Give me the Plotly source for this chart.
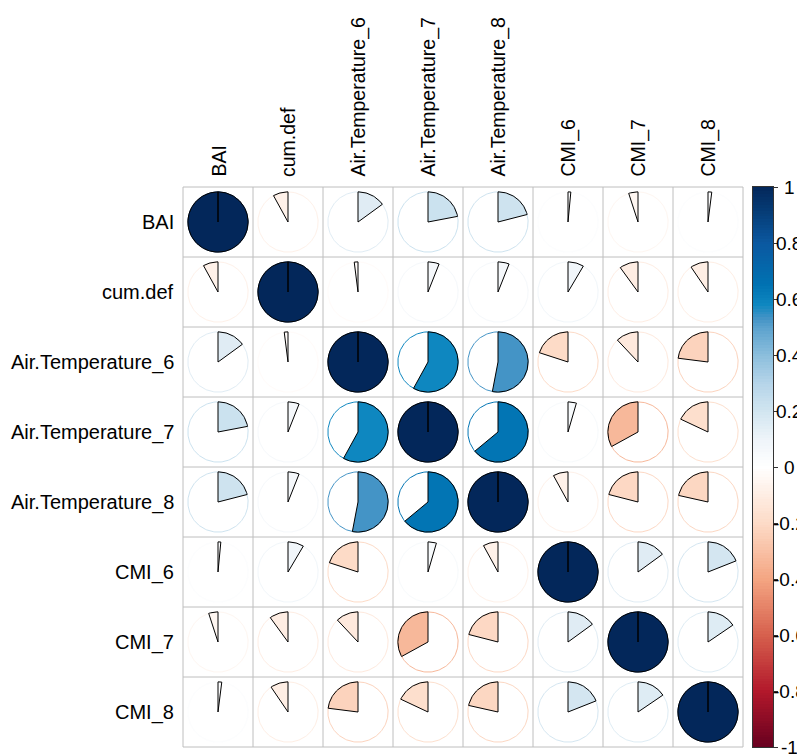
import numpy as np
import plotly.graph_objects as go

# ---------------- data ----------------
labels = ["BAI", "cum.def", "Air.Temperature_6", "Air.Temperature_7",
          "Air.Temperature_8", "CMI_6", "CMI_7", "CMI_8"]

r_BAI = [1.00, -0.08, 0.15, 0.22, 0.21, 0.015, -0.05, 0.02]
r_cumdef = [-0.08, 1.00, -0.02, 0.06, 0.06, 0.085, -0.10, -0.095]
r_AT6 = [0.15, -0.02, 1.00, 0.58, 0.53, -0.20, -0.12, -0.23]
r_AT7 = [0.22, 0.06, 0.58, 1.00, 0.64, 0.045, -0.33, -0.18]
r_AT8 = [0.21, 0.06, 0.53, 0.64, 1.00, -0.08, -0.21, -0.215]
r_CMI6 = [0.015, 0.085, -0.20, 0.045, -0.08, 1.00, 0.15, 0.19]
r_CMI7 = [-0.05, -0.10, -0.12, -0.33, -0.21, 0.15, 1.00, 0.155]
r_CMI8 = [0.02, -0.095, -0.23, -0.18, -0.215, 0.19, 0.155, 1.00]

cbar_tickvals = [1, 0.8, 0.6, 0.4, 0.2, 0, -0.2, -0.4, -0.6, -0.8, -1]
cbar_ticktext = ["1", "0.8", "0.6", "0.4", "0.2", "0", "-0.2", "-0.4", "-0.6", "-0.8", "-1"]

pal_vals = [-1.0, -0.8, -0.6, -0.4, -0.2, 0.0, 0.1, 0.2, 0.3, 0.4, 0.5, 0.53, 0.58, 0.65, 0.8, 0.9, 1.0]
pal_cols = ["#67001F", "#B2182B", "#D6604D", "#F4A582", "#FDDBC7", "#FFFFFF", "#EEF4F9",
            "#D1E5F0", "#B5D4E9", "#8BBEDC", "#5AA1CD", "#4494C6", "#0E87C0", "#0072B2",
            "#0B58A0", "#063F7A", "#03275A"]

# ---------------- layout constants ----------------
# the page body adds an 8px margin, so the figure starts at window pixel (8, 8)
OFF = 8.0
W, H = 797, 746
CELL = 70.0
GRID_L, GRID_T = 183.0 - OFF, 187.0 - OFF
N = len(labels)
RADIUS = 0.43
FONT = "Arial, Liberation Sans, sans-serif"

matrix = [r_BAI, r_cumdef, r_AT6, r_AT7, r_AT8, r_CMI6, r_CMI7, r_CMI8]


def hex2rgb(h):
    h = h.lstrip("#")
    return np.array([int(h[i:i + 2], 16) for i in (0, 2, 4)], dtype=float)


pal_rgb = [hex2rgb(c) for c in pal_cols]


def value_color(v):
    v = max(-1.0, min(1.0, v))
    rgb = np.array([np.interp(v, pal_vals, [c[k] for c in pal_rgb]) for k in range(3)])
    r, g, b = [int(round(x)) for x in rgb]
    return f"rgb({r},{g},{b})"


x_lo = 0.5 - GRID_L / CELL
x_hi = 0.5 + (W - GRID_L) / CELL
y_top = 0.5 - GRID_T / CELL
y_bot = 0.5 + (H - GRID_T) / CELL

fig = go.Figure()

# outline circles
tt = np.linspace(0, 2 * np.pi, 181)
for i in range(N):
    for j in range(N):
        v = matrix[i][j]
        cx, cy = j + 1, i + 1
        fig.add_trace(go.Scatter(
            x=cx + RADIUS * np.sin(tt), y=cy - RADIUS * np.cos(tt),
            mode="lines", line=dict(color=value_color(v), width=1),
            hoverinfo="skip", showlegend=False))

# pie sectors
for i in range(N):
    for j in range(N):
        v = matrix[i][j]
        cx, cy = j + 1, i + 1
        ang = v * 2 * np.pi
        n = max(3, int(abs(v) * 180) + 2)
        t = np.linspace(0, ang, n)
        xs = np.concatenate([[cx], cx + RADIUS * np.sin(t), [cx]])
        ys = np.concatenate([[cy], cy - RADIUS * np.cos(t), [cy]])
        fig.add_trace(go.Scatter(
            x=xs, y=ys, mode="lines", fill="toself",
            fillcolor=value_color(v), line=dict(color="black", width=1),
            hovertext=f"{labels[i]} / {labels[j]}: {v:.2f}", hoverinfo="text",
            showlegend=False))

# colour bar (its own axes)
cb_vals = np.linspace(-1, 1, 201)
fig.add_trace(go.Heatmap(
    x=[0.5], y=cb_vals, z=[[v] for v in cb_vals],
    zmin=-1, zmax=1,
    colorscale=[[(pv + 1) / 2, pc] for pv, pc in zip(pal_vals, pal_cols)],
    showscale=False, xaxis="x2", yaxis="y2", hoverinfo="skip"))

# grid lines
shapes = []
for k in range(N + 1):
    shapes.append(dict(type="line", xref="x", yref="y", x0=0.5 + k, x1=0.5 + k,
                       y0=0.5, y1=N + 0.5, line=dict(color="#BEBEBE", width=1), layer="below"))
    shapes.append(dict(type="line", xref="x", yref="y", x0=0.5, x1=N + 0.5,
                       y0=0.5 + k, y1=0.5 + k, line=dict(color="#BEBEBE", width=1), layer="below"))

annotations = []
for k, lab in enumerate(labels):
    annotations.append(dict(x=0.5 - 7 / CELL, y=k + 1, xref="x", yref="y", text=lab,
                            showarrow=False, xanchor="right", yanchor="middle",
                            font=dict(family=FONT, size=20, color="black")))
    annotations.append(dict(x=k + 1, y=0.5 - 8 / CELL, xref="x", yref="y", text=lab,
                            showarrow=False, xanchor="center", yanchor="bottom", textangle=-90,
                            font=dict(family=FONT, size=19.5, color="black")))

CB_L, CB_R = 753.0 - OFF, 773.0 - OFF
CB_T, CB_B = 187.0 - OFF, 747.0 - OFF
for tv, tx in zip(cbar_tickvals, cbar_ticktext):
    annotations.append(dict(x=(789.0 - OFF) / W, y=tv, xref="paper", yref="y2", text=tx,
                            showarrow=False, xanchor="center", yanchor="middle",
                            font=dict(family=FONT, size=19, color="black")))

fig.update_layout(
    width=W, height=H,
    margin=dict(l=0, r=0, t=0, b=0, pad=0),
    paper_bgcolor="white", plot_bgcolor="white",
    xaxis=dict(range=[x_lo, x_hi], domain=[0, 1], visible=False, fixedrange=True),
    yaxis=dict(range=[y_bot, y_top], domain=[0, 1], visible=False, fixedrange=True),
    xaxis2=dict(domain=[CB_L / W, CB_R / W], range=[0, 1], anchor="y2",
                showticklabels=False, showgrid=False, zeroline=False,
                showline=True, mirror=True, linecolor="#333333", linewidth=1,
                ticks="", fixedrange=True),
    yaxis2=dict(domain=[(H - CB_B) / H, (H - CB_T) / H], range=[-1, 1], anchor="x2",
                side="right", tickvals=cbar_tickvals, ticks="outside", ticklen=4,
                tickcolor="#333333", showticklabels=False, showgrid=False, zeroline=False,
                showline=True, mirror=True, linecolor="#333333", linewidth=1,
                fixedrange=True),
    shapes=shapes,
    annotations=annotations,
    showlegend=False,
)

fig.write_html("out.html")
